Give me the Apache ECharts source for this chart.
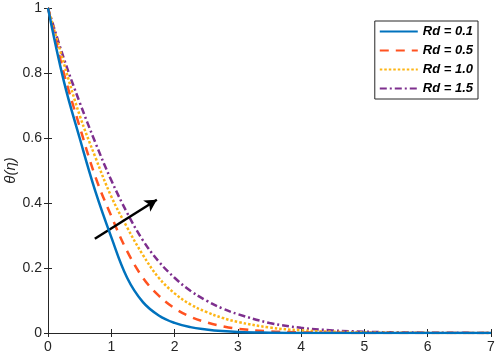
<!DOCTYPE html>
<html>
<head>
<meta charset="utf-8">
<title>theta profile</title>
<script src="https://cdn.jsdelivr.net/npm/echarts@6/dist/echarts.min.js"></script>
<style>
  *{margin:0;padding:0;}
  body{background:#fff;}
  #main{width:498px;height:359px;}
</style>
</head>
<body>
<div id="main"></div>
<script>
var eta   = [0, 0.25, 0.5, 0.75, 1, 1.25, 1.5, 1.75, 2, 2.25, 2.5, 2.75, 3, 3.5, 4, 4.5, 5, 5.5, 6, 6.5, 7];
var rd01  = [1, 0.775, 0.60, 0.435, 0.295, 0.17, 0.095, 0.054, 0.031, 0.018, 0.011, 0.006, 0.003, 0.001, 0, 0, 0, 0, 0, 0, 0];
var rd05  = [1, 0.80, 0.635, 0.48, 0.36, 0.252, 0.17, 0.115, 0.076, 0.05, 0.033, 0.021, 0.013, 0.005, 0.002, 0.0007, 0.0002, 0, 0, 0, 0];
var rd10  = [1, 0.83, 0.67, 0.54, 0.42, 0.325, 0.24, 0.17, 0.122, 0.088, 0.065, 0.047, 0.034, 0.017, 0.008, 0.004, 0.002, 0.001, 0.0004, 0.0001, 0];
var rd15  = [1, 0.845, 0.71, 0.585, 0.47, 0.37, 0.285, 0.22, 0.17, 0.13, 0.10, 0.076, 0.058, 0.031, 0.016, 0.008, 0.004, 0.002, 0.001, 0.0005, 0.0002];
var yTicks = [0, 0.2, 0.4, 0.6, 0.8, 1];
var arrowFrom = [0.74, 0.29];
var arrowTo   = [1.72, 0.41];

function pairs(ys){
    var out = [];
    for(var i = 0;i < eta.length;i++){
        out.push([eta[i], ys[i]]);
    }
    return out;
}

var axisColor = '#262626';
var myChart = echarts.init(document.getElementById('main'));
var option = {
    animation:false,
    backgroundColor:'#fff',
    textStyle:{fontFamily:'Liberation Sans, Arial, sans-serif'},
    grid:{left:48, right:7, top:8, bottom:26, containLabel:false, outerBoundsMode:'none'},
    legend:{
        right:20, top:21,
        orient:'vertical',
        backgroundColor:'#fff',
        borderColor:'#262626',
        borderWidth:1,
        borderRadius:0,
        padding:[4,5,4,4],
        itemWidth:38,
        itemHeight:12,
        itemGap:6,
        itemStyle:{opacity:0},
        textStyle:{fontSize:13, fontWeight:'bold', fontStyle:'italic', color:'#000'},
        data:['Rd = 0.1','Rd = 0.5','Rd = 1.0','Rd = 1.5']
    },
    xAxis:[{
        type:'value', min:0, max:7, interval:1,
        axisLine:{lineStyle:{color:axisColor}},
        axisTick:{inside:true, length:4, lineStyle:{color:axisColor}},
        axisLabel:{fontSize:14, color:axisColor, margin:7},
        splitLine:{show:false}
    },{
        type:'value', min:0, max:7, interval:1, position:'top',
        axisLine:{lineStyle:{color:axisColor}},
        axisTick:{inside:true, length:4, lineStyle:{color:axisColor}},
        axisLabel:{show:false},
        splitLine:{show:false}
    }],
    yAxis:[{
        type:'value', min:0, max:1, interval:0.2,
        name:'θ(η)', nameLocation:'middle', nameGap:30, nameMoveOverlap:false,
        nameTextStyle:{fontSize:15, color:axisColor, fontStyle:'italic'},
        axisLine:{show:true, lineStyle:{color:axisColor}},
        axisTick:{show:true, inside:true, length:4, lineStyle:{color:axisColor}},
        axisLabel:{fontSize:14, color:axisColor, margin:6,
            formatter:function(v){ return yTicks.indexOf(v) >= 0 ? String(v) : ''; }},
        splitLine:{show:false}
    },{
        type:'value', min:0, max:1, interval:0.2, position:'right',
        axisLine:{show:true, lineStyle:{color:axisColor}},
        axisTick:{show:true, inside:true, length:4, lineStyle:{color:axisColor}},
        axisLabel:{show:false},
        splitLine:{show:false}
    }],
    series:[
        {
            name:'Rd = 0.1', type:'line', smooth:0.4, symbol:'none',
            lineStyle:{color:'#0072BD', width:2.5},
            itemStyle:{color:'#0072BD'},
            data:pairs(rd01), z:5
        },
        {
            name:'Rd = 0.5', type:'line', smooth:0.4, symbol:'none',
            lineStyle:{color:'#FF5220', width:2.5, type:[9,7]},
            itemStyle:{color:'#FF5220'},
            data:pairs(rd05), z:4
        },
        {
            name:'Rd = 1.0', type:'line', smooth:0.4, symbol:'none',
            lineStyle:{color:'#FDB515', width:2.5, type:[2.5,2]},
            itemStyle:{color:'#FDB515'},
            data:pairs(rd10), z:3
        },
        {
            name:'Rd = 1.5', type:'line', smooth:0.4, symbol:'none',
            lineStyle:{color:'#7E2F8E', width:2.5, type:[7,3,2,3]},
            itemStyle:{color:'#7E2F8E'},
            data:pairs(rd15), z:2
        },
        {
            type:'line', data:[], symbol:'none', silent:true,
            markLine:{
                silent:true,
                symbol:['none','arrow'],
                symbolSize:[10,12],
                label:{show:false},
                lineStyle:{color:'#000', width:2.5, type:'solid'},
                data:[[{coord:arrowFrom},{coord:arrowTo}]]
            }
        }
    ]
};
myChart.setOption(option);
</script>
</body>
</html>
